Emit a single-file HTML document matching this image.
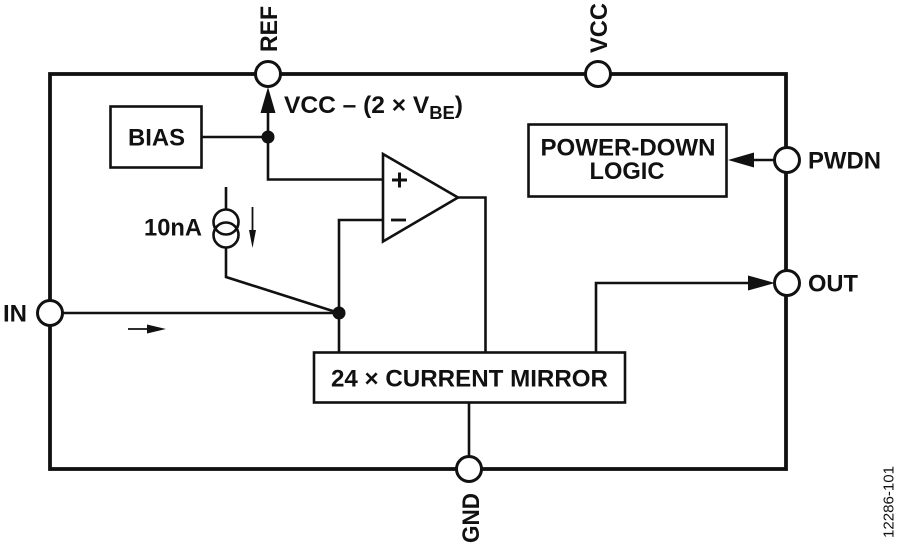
<!DOCTYPE html>
<html>
<head>
<meta charset="utf-8">
<style>
html,body{margin:0;padding:0;background:#fff;width:900px;height:545px;overflow:hidden}
svg{display:block}
text{font-family:"Liberation Sans",Arial,sans-serif;font-weight:bold;fill:#111;font-size:24px}
</style>
</head>
<body>
<svg width="900" height="545" viewBox="0 0 900 545" xmlns="http://www.w3.org/2000/svg">
<rect x="50" y="74" width="736" height="395" fill="none" stroke="#111" stroke-width="3.8"/>
<g fill="none" stroke="#111" stroke-width="2.6">
<rect x="110.500" y="106.500" width="91" height="61"/>
<rect x="528.500" y="124.500" width="198" height="72"/>
<rect x="314" y="352.500" width="311" height="50"/>
<path d="M268 112V179.500H383"/>
<path d="M201 137H268"/>
<path d="M383 154V241.500L458 197.500Z" stroke-linejoin="miter"/>
<path d="M458 197.500H485.500V352"/>
<path d="M383 220H339V352"/>
<path d="M62 313H339"/>
<path d="M226 187V209M226 247V277L339 313"/>
<path d="M596 352V283H750"/>
<path d="M469 403V458"/>
<path d="M775 160H750"/>
<circle cx="226" cy="222" r="12.500"/>
<circle cx="226" cy="235" r="12.500"/>
</g>
<path d="M252.500 207V232" stroke="#111" stroke-width="1.800" fill="none"/>
<path d="M249 230H256L252.500 248Z" fill="#111"/>
<path d="M128 329H149" stroke="#111" stroke-width="1.800" fill="none"/>
<path d="M147 324.500L166 329L147 333.500Z" fill="#111"/>
<path d="M268 87L275.500 113H260.500Z" fill="#111"/>
<path d="M728 160L754 152.500V167.500Z" fill="#111"/>
<path d="M775 283L748 275.500V290.500Z" fill="#111"/>
<circle cx="268" cy="137" r="6.500" fill="#111"/>
<circle cx="339" cy="313" r="6.500" fill="#111"/>
<g fill="#fff" stroke="#111" stroke-width="3">
<circle cx="268" cy="74" r="12.500"/>
<circle cx="598" cy="74" r="12.500"/>
<circle cx="787" cy="160" r="12.500"/>
<circle cx="787" cy="283" r="12.500"/>
<circle cx="50" cy="313" r="12.500"/>
<circle cx="469" cy="469" r="12.500"/>
</g>
<path d="M392 180H407M399.500 172.500V187.500" stroke="#111" stroke-width="3" fill="none"/>
<path d="M391 220H406" stroke="#111" stroke-width="2.800" fill="none"/>
<text x="156.500" y="145.500" text-anchor="middle" textLength="57" lengthAdjust="spacingAndGlyphs">BIAS</text>
<text x="628" y="155.500" text-anchor="middle" textLength="175" lengthAdjust="spacingAndGlyphs">POWER-DOWN</text>
<text x="627" y="179" text-anchor="middle" textLength="75" lengthAdjust="spacingAndGlyphs">LOGIC</text>
<text x="469.500" y="386.500" text-anchor="middle" textLength="277" lengthAdjust="spacingAndGlyphs">24 × CURRENT MIRROR</text>
<text x="284" y="113" textLength="179" lengthAdjust="spacingAndGlyphs">VCC – (2 × V<tspan font-size="18" dy="6">BE</tspan><tspan dy="-6">)</tspan></text>
<text x="144" y="235.500" textLength="58" lengthAdjust="spacingAndGlyphs">10nA</text>
<text x="808" y="168.500" textLength="73" lengthAdjust="spacingAndGlyphs">PWDN</text>
<text x="808" y="291.500" textLength="50" lengthAdjust="spacingAndGlyphs">OUT</text>
<text x="3" y="321.500" textLength="24" lengthAdjust="spacingAndGlyphs">IN</text>
<text transform="translate(277,52) rotate(-90)" textLength="46" lengthAdjust="spacingAndGlyphs">REF</text>
<text transform="translate(607,53) rotate(-90)" textLength="50" lengthAdjust="spacingAndGlyphs">VCC</text>
<text transform="translate(479,543) rotate(-90)" textLength="50" lengthAdjust="spacingAndGlyphs">GND</text>
<text transform="translate(893.500,538) rotate(-90)" style="font-weight:normal;font-size:15px" textLength="72" lengthAdjust="spacingAndGlyphs">12286-101</text>
</svg>
</body>
</html>
